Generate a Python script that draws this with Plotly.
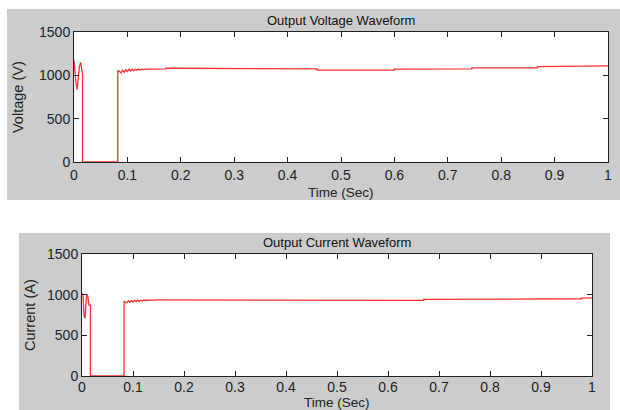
import plotly.graph_objects as go

W, H = 620, 410

# Voltage waveform
t_v = [0, 0.002, 0.004, 0.006, 0.008, 0.010, 0.0125, 0.014, 0.0155, 0.016, 0.016,
       0.082, 0.082, 0.085, 0.088, 0.091, 0.094, 0.097, 0.100, 0.103, 0.106, 0.109,
       0.112, 0.115, 0.118, 0.121, 0.124, 0.127, 0.130, 0.135, 0.140, 0.150, 0.172,
       0.172, 0.200, 0.300, 0.400, 0.455, 0.455, 0.600, 0.600, 0.745, 0.745, 0.868,
       0.868, 0.950, 1.000]
v_v = [1175, 1000, 900, 838, 1000, 1100, 1148, 1080, 1014, 1010, 0,
       0, 1060, 1040, 1030, 1060, 1035, 1065, 1045, 1070, 1050, 1068,
       1055, 1070, 1060, 1072, 1062, 1072, 1066, 1072, 1070, 1072, 1074,
       1082, 1082, 1080, 1078, 1075, 1060, 1060, 1072, 1074, 1085, 1086,
       1100, 1100, 1108]

# Current waveform
t_i = [0, 0.002, 0.004, 0.006, 0.0085, 0.0098, 0.011, 0.0137, 0.0160, 0.0165, 0.0165,
       0.0824, 0.0824, 0.085, 0.088, 0.091, 0.094, 0.097, 0.100, 0.103, 0.106, 0.109,
       0.112, 0.115, 0.118, 0.121, 0.124, 0.127, 0.130, 0.135, 0.140, 0.150, 0.200,
       0.300, 0.380, 0.380, 0.600, 0.670, 0.670, 0.827, 0.827, 0.979, 0.979, 1.000]
i_v = [1018, 1000, 740, 709, 960, 1000, 990, 873, 870, 870, 0,
       0, 923, 905, 900, 925, 905, 928, 910, 930, 915, 932,
       918, 932, 922, 934, 926, 934, 930, 935, 934, 935, 935,
       935, 934, 929, 929, 931, 941, 941, 947, 950, 958, 960]

x_ticks = [0, 0.1, 0.2, 0.3, 0.4, 0.5, 0.6, 0.7, 0.8, 0.9, 1]
x_tick_text = ["0", "0.1", "0.2", "0.3", "0.4", "0.5", "0.6", "0.7", "0.8", "0.9", "1"]
y_ticks = [0, 500, 1000, 1500]

titles = ["Output Voltage Waveform", "Output Current Waveform"]
y_titles = ["Voltage (V)", "Current (A)"]
x_title = "Time (Sec)"

# layout geometry (pixels)
panels = [  # gray panel (x0,y0,x1,y1), plot area (x0,y0,x1,y1), xtitle bottom y, ytitle x, tick standoff
    ((7, 9, 620, 200), (74, 32, 608, 162), 201, 18, 0),
    ((19, 233, 610, 410), (82, 254, 592, 376), 410.5, 30, -2),
]

font = "Liberation Sans, Arial, sans-serif"
fig = go.Figure()
fig.add_trace(go.Scatter(x=t_v, y=v_v, mode="lines", line=dict(color="#ff3030", width=1.3),
                         xaxis="x", yaxis="y", showlegend=False))
fig.add_trace(go.Scatter(x=t_i, y=i_v, mode="lines", line=dict(color="#ff3030", width=1.3),
                         xaxis="x2", yaxis="y2", showlegend=False))

shapes = []
annotations = []
for k, (gray, pa, xty, ytx, _) in enumerate(panels):
    shapes.append(dict(type="rect", xref="paper", yref="paper",
                       x0=gray[0] / W, x1=gray[2] / W, y0=1 - gray[3] / H, y1=1 - gray[1] / H,
                       fillcolor="#cccccc", line=dict(width=0), layer="below"))
    shapes.append(dict(type="rect", xref="paper", yref="paper",
                       x0=pa[0] / W, x1=pa[2] / W, y0=1 - pa[3] / H, y1=1 - pa[1] / H,
                       fillcolor="white", line=dict(width=0), layer="below"))
    annotations.append(dict(text=titles[k], xref="paper", yref="paper",
                            x=(pa[0] + pa[2]) / 2 / W, y=1 - (pa[1] - 2) / H,
                            xanchor="center", yanchor="bottom", showarrow=False,
                            font=dict(size=13, color="#111", family=font)))
    annotations.append(dict(text=x_title, xref="paper", yref="paper",
                            x=(pa[0] + pa[2]) / 2 / W, y=1 - xty / H,
                            xanchor="center", yanchor="bottom", showarrow=False, borderpad=0,
                            font=dict(size=13.5, color="#222", family=font)))
    annotations.append(dict(text=y_titles[k], xref="paper", yref="paper",
                            x=ytx / W, y=1 - (pa[1] + pa[3]) / 2 / H, textangle=-90,
                            xanchor="center", yanchor="middle", showarrow=False,
                            font=dict(size=14.5, color="#222", family=font)))

def xaxis(pa, anchor, standoff):
    return dict(domain=[pa[0] / W, pa[2] / W], range=[0, 1], tickvals=x_ticks,
                ticktext=x_tick_text, ticks="inside", ticklen=5, tickcolor="#222",
                showline=True, linecolor="#222", linewidth=1, mirror="ticks",
                showgrid=False, zeroline=False, anchor=anchor, automargin=False,
                ticklabelstandoff=standoff,
                tickfont=dict(size=14, color="#222", family=font))

def yaxis(pa, anchor):
    return dict(domain=[1 - pa[3] / H, 1 - pa[1] / H], range=[0, 1500], tickvals=y_ticks,
                ticks="inside", ticklen=5, tickcolor="#222",
                showline=True, linecolor="#222", linewidth=1, mirror="ticks",
                showgrid=False, zeroline=False, anchor=anchor, automargin=False,
                tickfont=dict(size=14, color="#222", family=font))

fig.update_layout(
    width=W, height=H, margin=dict(l=0, r=0, t=0, b=0),
    paper_bgcolor="white", plot_bgcolor="rgba(0,0,0,0)",
    xaxis=xaxis(panels[0][1], "y", panels[0][4]), yaxis=yaxis(panels[0][1], "x"),
    xaxis2=xaxis(panels[1][1], "y2", panels[1][4]), yaxis2=yaxis(panels[1][1], "x2"),
    shapes=shapes, annotations=annotations,
)
fig.write_html("out.html")
